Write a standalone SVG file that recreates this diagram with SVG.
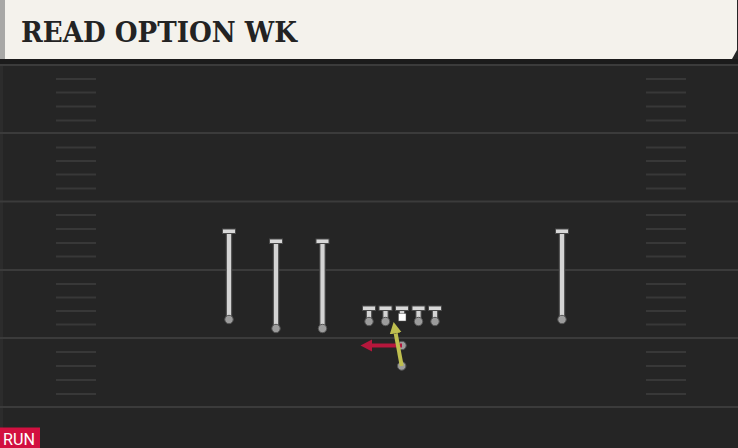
<svg xmlns="http://www.w3.org/2000/svg" width="738" height="448" viewBox="0 0 738 448">
<style>
.yard{stroke:#3b3b3b;stroke-width:2}
.hash{stroke:#383838;stroke-width:2}
.stemO{stroke:#4a4a4a;stroke-width:6.5;stroke-linecap:butt}
.stem{stroke:#d4d4d4;stroke-width:4.2}
.bar{fill:#d8d8d8;stroke:#4a4a4a;stroke-width:1}
.ball{fill:#9c9c9c;stroke:#555;stroke-width:1}
.title{font-family:"DejaVu Serif","Liberation Serif",serif;font-weight:bold;font-size:27px;fill:#232323}
.tag{font-family:Roboto,"Liberation Sans",sans-serif;font-size:16px;fill:#ffffff}
</style>
<defs>
<marker id="headRed" markerUnits="userSpaceOnUse" markerWidth="13" markerHeight="13" viewBox="0 -6.5 13 13" refX="0" refY="0" orient="auto">
<path d="M0,-6 L11.5,0 L0,6 z" fill="#b5173c"/>
</marker>
<marker id="headYel" markerUnits="userSpaceOnUse" markerWidth="13" markerHeight="13" viewBox="0 -6.5 13 13" refX="0" refY="0" orient="auto">
<path d="M0,-6 L11.5,0 L0,6 z" fill="#bfbf4f"/>
</marker>
</defs>
<rect x="0" y="0" width="738" height="448" fill="#252525"/>
<rect x="0" y="63" width="3" height="385" fill="#2c2c2c"/>
<g id="field">
<rect x="0" y="59" width="738" height="5" fill="#1b1b1b"/>
<line class="yard" x1="0" y1="65" x2="738" y2="65"/>
<line class="yard" x1="0" y1="133" x2="738" y2="133"/>
<line class="yard" x1="0" y1="201.5" x2="738" y2="201.5"/>
<line class="yard" x1="0" y1="270" x2="738" y2="270"/>
<line class="yard" x1="0" y1="338" x2="738" y2="338"/>
<line class="yard" x1="0" y1="407" x2="738" y2="407"/>
<g id="hashes-left">
<line class="hash" x1="56" y1="79" x2="96" y2="79"/><line class="hash" x1="56" y1="92.5" x2="96" y2="92.5"/><line class="hash" x1="56" y1="106.5" x2="96" y2="106.5"/><line class="hash" x1="56" y1="120.5" x2="96" y2="120.5"/>
<line class="hash" x1="56" y1="147.5" x2="96" y2="147.5"/><line class="hash" x1="56" y1="161" x2="96" y2="161"/><line class="hash" x1="56" y1="174.5" x2="96" y2="174.5"/><line class="hash" x1="56" y1="188.5" x2="96" y2="188.5"/>
<line class="hash" x1="56" y1="215" x2="96" y2="215"/><line class="hash" x1="56" y1="229" x2="96" y2="229"/><line class="hash" x1="56" y1="243" x2="96" y2="243"/><line class="hash" x1="56" y1="256.5" x2="96" y2="256.5"/>
<line class="hash" x1="56" y1="284" x2="96" y2="284"/><line class="hash" x1="56" y1="297.5" x2="96" y2="297.5"/><line class="hash" x1="56" y1="311" x2="96" y2="311"/><line class="hash" x1="56" y1="324.5" x2="96" y2="324.5"/>
<line class="hash" x1="56" y1="352" x2="96" y2="352"/><line class="hash" x1="56" y1="366" x2="96" y2="366"/><line class="hash" x1="56" y1="380" x2="96" y2="380"/><line class="hash" x1="56" y1="394" x2="96" y2="394"/>
</g>
<g id="hashes-right">
<line class="hash" x1="646" y1="79" x2="686" y2="79"/><line class="hash" x1="646" y1="92.5" x2="686" y2="92.5"/><line class="hash" x1="646" y1="106.5" x2="686" y2="106.5"/><line class="hash" x1="646" y1="120.5" x2="686" y2="120.5"/>
<line class="hash" x1="646" y1="147.5" x2="686" y2="147.5"/><line class="hash" x1="646" y1="161" x2="686" y2="161"/><line class="hash" x1="646" y1="174.5" x2="686" y2="174.5"/><line class="hash" x1="646" y1="188.5" x2="686" y2="188.5"/>
<line class="hash" x1="646" y1="215" x2="686" y2="215"/><line class="hash" x1="646" y1="229" x2="686" y2="229"/><line class="hash" x1="646" y1="243" x2="686" y2="243"/><line class="hash" x1="646" y1="256.5" x2="686" y2="256.5"/>
<line class="hash" x1="646" y1="284" x2="686" y2="284"/><line class="hash" x1="646" y1="297.5" x2="686" y2="297.5"/><line class="hash" x1="646" y1="311" x2="686" y2="311"/><line class="hash" x1="646" y1="324.5" x2="686" y2="324.5"/>
<line class="hash" x1="646" y1="352" x2="686" y2="352"/><line class="hash" x1="646" y1="366" x2="686" y2="366"/><line class="hash" x1="646" y1="380" x2="686" y2="380"/><line class="hash" x1="646" y1="394" x2="686" y2="394"/>
</g>
</g>
<g id="header">
<rect x="0" y="0" width="5" height="59" fill="#a8a8a6"/>
<polygon points="5,0 737,0 737,50 732,59 5,59" fill="#f4f2ec"/>
<text class="title" x="21" y="42" textLength="276" lengthAdjust="spacingAndGlyphs">READ OPTION WK</text>
</g>
<g id="wr1"><line class="stemO" x1="229" y1="232" x2="229" y2="319"/><line class="stem" x1="229" y1="232" x2="229" y2="319"/><rect class="bar" x="222.5" y="229" width="13" height="4.5"/><circle class="ball" cx="229" cy="319.5" r="4.2"/></g>
<g id="wr2"><line class="stemO" x1="276" y1="242" x2="276" y2="328"/><line class="stem" x1="276" y1="242" x2="276" y2="328"/><rect class="bar" x="269.5" y="239" width="13" height="4.5"/><circle class="ball" cx="276" cy="328.5" r="4.2"/></g>
<g id="wr3"><line class="stemO" x1="322.5" y1="242" x2="322.5" y2="328"/><line class="stem" x1="322.5" y1="242" x2="322.5" y2="328"/><rect class="bar" x="316" y="239" width="13" height="4.5"/><circle class="ball" cx="322.5" cy="328.5" r="4.2"/></g>
<g id="wr4"><line class="stemO" x1="562" y1="232" x2="562" y2="319"/><line class="stem" x1="562" y1="232" x2="562" y2="319"/><rect class="bar" x="555.5" y="229" width="13" height="4.5"/><circle class="ball" cx="562" cy="319.5" r="4.2"/></g>
<g id="lt"><line class="stemO" x1="369" y1="309" x2="369" y2="321"/><line class="stem" x1="369" y1="309" x2="369" y2="321"/><rect class="bar" x="362.5" y="306" width="13" height="4.5"/><circle class="ball" cx="369" cy="321.5" r="4.2"/></g>
<g id="lg"><line class="stemO" x1="385.5" y1="309" x2="385.5" y2="321"/><line class="stem" x1="385.5" y1="309" x2="385.5" y2="321"/><rect class="bar" x="379" y="306" width="13" height="4.5"/><circle class="ball" cx="385.5" cy="321.5" r="4.2"/></g>
<g id="c"><line class="stemO" x1="402" y1="309" x2="402" y2="314"/><line class="stem" x1="402" y1="309" x2="402" y2="314"/><rect class="bar" x="395.5" y="306" width="13" height="4.5"/><rect x="398.5" y="313.5" width="7.5" height="7.5" fill="#ffffff" stroke="#555" stroke-width="0.5"/></g>
<g id="rg"><line class="stemO" x1="418.5" y1="309" x2="418.5" y2="321"/><line class="stem" x1="418.5" y1="309" x2="418.5" y2="321"/><rect class="bar" x="412" y="306" width="13" height="4.5"/><circle class="ball" cx="418.5" cy="321.5" r="4.2"/></g>
<g id="rt"><line class="stemO" x1="435" y1="309" x2="435" y2="321"/><line class="stem" x1="435" y1="309" x2="435" y2="321"/><rect class="bar" x="428.5" y="306" width="13" height="4.5"/><circle class="ball" cx="435" cy="321.5" r="4.2"/></g>
<g id="qb"><circle class="ball" cx="402" cy="345.5" r="4.2"/></g>
<g id="rb"><circle class="ball" cx="401.7" cy="366" r="4.2"/></g>
<g id="connectors">
<line x1="402" y1="345.5" x2="372" y2="345.5" stroke="#b5173c" stroke-width="4" marker-end="url(#headRed)"/>
<line x1="401.7" y1="366" x2="395.7" y2="333.3" stroke="#bfbf4f" stroke-width="4" marker-end="url(#headYel)"/>
</g>
<g id="tag">
<rect x="0" y="427.5" width="40" height="20.5" fill="#d21040"/>
<text class="tag" x="3" y="445" textLength="32" lengthAdjust="spacingAndGlyphs">RUN</text>
</g>
</svg>
